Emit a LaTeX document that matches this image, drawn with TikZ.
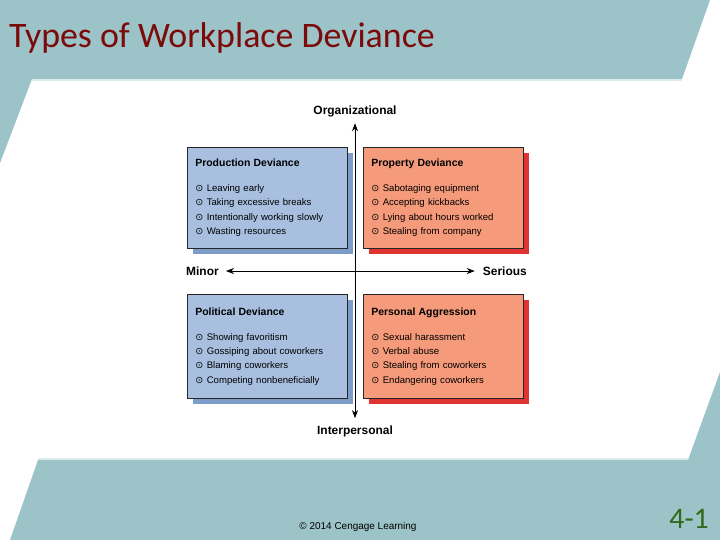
\documentclass[tikz,border=0pt]{standalone}
\usepackage{fontspec}
\setmainfont{Liberation Sans}
\newfontfamily\slidefont{Carlito}
\newfontfamily\symfont{DejaVu Sans}
\usetikzlibrary{arrows.meta,shadows}
\definecolor{slideteal}{HTML}{9CC3C7}
\definecolor{slidepale}{HTML}{DCEBEC}
\definecolor{titlered}{HTML}{7B0A0A}
\definecolor{pagegreen}{HTML}{2F6A1C}
\definecolor{bluefill}{HTML}{A8BFE0}
\definecolor{blueshade}{HTML}{7D9CC8}
\definecolor{redfill}{HTML}{F59A7B}
\definecolor{redshade}{HTML}{DF3431}
\def\itm#1{{\symfont ⊙}\hspace{3.5bp}#1}
\def\boxtitle#1{{\bfseries\fontsize{10.5}{14.4}\selectfont #1}\\[10.6bp]}

\begin{document}
\begin{tikzpicture}[x=1bp, y=-1bp,
    devbox/.style={draw=black!85, line width=0.6bp, anchor=north west,
      minimum width=160bp, inner xsep=8bp, text width=144bp, align=left,
      font=\fontsize{9.6}{14.4}\selectfont},
    bluebox/.style={devbox, fill=bluefill,
      general shadow={fill=blueshade, shadow xshift=6bp, shadow yshift=-6bp}},
    redbox/.style={devbox, fill=redfill,
      general shadow={fill=redshade, shadow xshift=6bp, shadow yshift=-6bp}},
    axislabel/.style={inner sep=0pt, font=\bfseries\fontsize{12}{12}\selectfont},
    axisline/.style={line width=0.8bp, {Stealth[length=8bp,width=6bp,inset=2.5bp]}-{Stealth[length=8bp,width=6bp,inset=2.5bp]}}]
    %%%%% SLIDE %%%%%
    \useasboundingbox (0,0) rectangle (720,540);
    \fill[white] (0,0) rectangle (720,540);
    
    \fill[slideteal] (0,0) -- (710,0) -- (682,79) -- (32,79) -- (0,163) -- cycle;
    \draw[slidepale, line width=1.5bp] (32,80) -- (682,80);
    \fill[slideteal] (38,460) -- (688,460) -- (720,372) -- (720,540) -- (10,540) -- cycle;
    \draw[slidepale, line width=1.5bp] (38,459) -- (688,459);
    
    \node[anchor=base west, inner sep=0pt, text=titlered, font=\slidefont\fontsize{36}{36}\selectfont] (title) at (9,48) {Types of Workplace Deviance};
    
    %%%%% AXES %%%%%
    \node[axislabel, anchor=base] (org) at (355,115) {Organizational};
    \node[axislabel, anchor=base] (intp) at (355,434) {Interpersonal};
    \node[axislabel, anchor=base west] (minor) at (186,275.3) {Minor};
    \node[axislabel, anchor=base east] (serious) at (527,275.3) {Serious};
    
    \draw[axisline, shorten <=5.5bp, shorten >=7bp] (org) -- (intp);
    \draw[axisline, shorten <=7bp, shorten >=8bp] (minor) -- (serious);
    
    %%%%% QUADRANTS %%%%%
    \node[bluebox, minimum height=101bp] (prod) at (187,147) {\boxtitle{Production Deviance}
      \itm{Leaving early}\\ \itm{Taking excessive breaks}\\ \itm{Intentionally working slowly}\\ \itm{Wasting resources}};
    \node[redbox, minimum height=101bp] (prop) at (363,147) {\boxtitle{Property Deviance}
      \itm{Sabotaging equipment}\\ \itm{Accepting kickbacks}\\ \itm{Lying about hours worked}\\ \itm{Stealing from company}};
    \node[bluebox, minimum height=104bp] (poli) at (187,294) {\boxtitle{Political Deviance}
      \itm{Showing favoritism}\\ \itm{Gossiping about coworkers}\\ \itm{Blaming coworkers}\\ \itm{Competing nonbeneficially}};
    \node[redbox, minimum height=104bp] (pers) at (363,294) {\boxtitle{Personal Aggression}
      \itm{Sexual harassment}\\ \itm{Verbal abuse}\\ \itm{Stealing from coworkers}\\ \itm{Endangering coworkers}};
    
    %%%%% FOOTER %%%%%
    \node[anchor=base, inner sep=0pt, font=\fontsize{10}{10}\selectfont] (copy) at (358,529) {© 2014 Cengage Learning};
    \node[anchor=base east, inner sep=0pt, text=pagegreen, font=\slidefont\fontsize{30}{30}\selectfont] (pageno) at (709,528) {4-1};
\end{tikzpicture}
\end{document}
